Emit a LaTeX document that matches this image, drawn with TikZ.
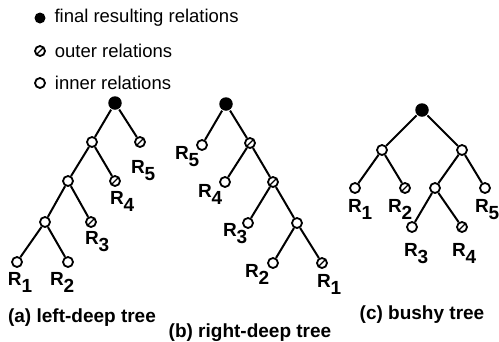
\documentclass[tikz,border=0pt]{standalone}
\usepackage{fontspec}
\setmainfont{Liberation Sans}
\usetikzlibrary{positioning}

\newcommand{\relname}[1]{R\raisebox{-7pt}{#1}}

\begin{document}
\begin{tikzpicture}[x=1pt,y=-1pt,line width=2pt]
  \tikzstyle{rel}=[circle,draw,fill=white,inner sep=0pt,minimum size=10pt,line width=1.8pt]
  \tikzstyle{outer}=[rel,path picture={\draw[line width=1.2pt] (path picture bounding box.south west) -- (path picture bounding box.north east);}]
  \tikzstyle{final}=[circle,fill,inner sep=0pt,minimum size=13.5pt]
  \tikzstyle{rlab}=[anchor=north west,inner sep=0pt,font=\fontsize{19}{19}\selectfont\bfseries]
  \tikzstyle{legtext}=[inner sep=0pt,font=\fontsize{18.5}{20}\selectfont]
  \tikzstyle{caption}=[inner sep=0pt,font=\fontsize{19}{20}\selectfont\bfseries]
  \useasboundingbox (0,0) rectangle (499,341);
  % legend
  \node[final,minimum size=11pt] (kfin) at (40,18) {};
  \node[outer] (kout) at (40,51) {};
  \node[rel] (kin) at (40,83) {};
  \node[legtext,right=7pt of kfin] (tfin) {final resulting relations};
  \node[legtext,right=8pt of kout] (tout) {outer relations};
  \node[legtext,right=8pt of kin] (tin) {inner relations};
  % (a) left-deep tree
  \node[final] (lroot) at (115,103) {};
  \node[rel] (lj1) at (92,142) {};
  \node[outer] (lr5) at (140,142) {};
  \node[rel] (lj2) at (68,181) {};
  \node[outer] (lr4) at (115,181) {};
  \node[rel] (lj3) at (45,222) {};
  \node[outer] (lr3) at (91,222) {};
  \node[rel] (lr1) at (17,262) {};
  \node[rel] (lr2) at (68,262) {};
  \node[rlab] (llab1) at (7,271) {\relname{1}};
  \node[rlab] (llab2) at (49,271) {\relname{2}};
  \node[rlab] (llab3) at (84,230) {\relname{3}};
  \node[rlab] (llab4) at (109,190) {\relname{4}};
  \node[rlab] (llab5) at (130,159) {\relname{5}};
  \foreach \a/\b in {lroot/lj1,lroot/lr5,lj1/lj2,lj1/lr4,lj2/lj3,lj2/lr3,lj3/lr1,lj3/lr2}
    \draw (\a) -- (\b);
  \node[caption] (lcap) at (82,318) {(a) left-deep tree};
  % (b) right-deep tree
  \node[final] (rroot) at (226,104) {};
  \node[rel] (rr5) at (202,145) {};
  \node[outer] (rj1) at (250,143) {};
  \node[rel] (rr4) at (225,182) {};
  \node[outer] (rj2) at (273,182) {};
  \node[rel] (rr3) at (248,223) {};
  \node[rel] (rj3) at (297,223) {};
  \node[rel] (rr2) at (273,263) {};
  \node[outer] (rr1) at (322,263) {};
  \node[rlab] (rlab5) at (174,145) {\relname{5}};
  \node[rlab] (rlab4) at (197,183) {\relname{4}};
  \node[rlab] (rlab3) at (222,222) {\relname{3}};
  \node[rlab] (rlab2) at (244,263) {\relname{2}};
  \node[rlab] (rlab1) at (316,273) {\relname{1}};
  \foreach \a/\b in {rroot/rr5,rroot/rj1,rj1/rr4,rj1/rj2,rj2/rr3,rj2/rj3,rj3/rr2,rj3/rr1}
    \draw (\a) -- (\b);
  \node[caption] (rcap) at (250,333) {(b) right-deep tree};
  % (c) bushy tree
  \node[final] (broot) at (422,110) {};
  \node[rel] (bj1) at (382,150) {};
  \node[rel] (bj2) at (462,150) {};
  \node[rel] (br1) at (355,188) {};
  \node[outer] (br2) at (405,188) {};
  \node[rel] (bj3) at (435,188) {};
  \node[rel] (br5) at (485,188) {};
  \node[rel] (br3) at (412,227) {};
  \node[outer] (br4) at (462,227) {};
  \node[rlab] (blab1) at (347,198) {\relname{1}};
  \node[rlab] (blab2) at (387,198) {\relname{2}};
  \node[rlab] (blab5) at (474,198) {\relname{5}};
  \node[rlab] (blab3) at (403,242) {\relname{3}};
  \node[rlab] (blab4) at (451,242) {\relname{4}};
  \foreach \a/\b in {broot/bj1,broot/bj2,bj1/br1,bj1/br2,bj2/bj3,bj2/br5,bj3/br3,bj3/br4}
    \draw (\a) -- (\b);
  \node[caption] (bcap) at (422,315) {(c) bushy tree};
\end{tikzpicture}
\end{document}
